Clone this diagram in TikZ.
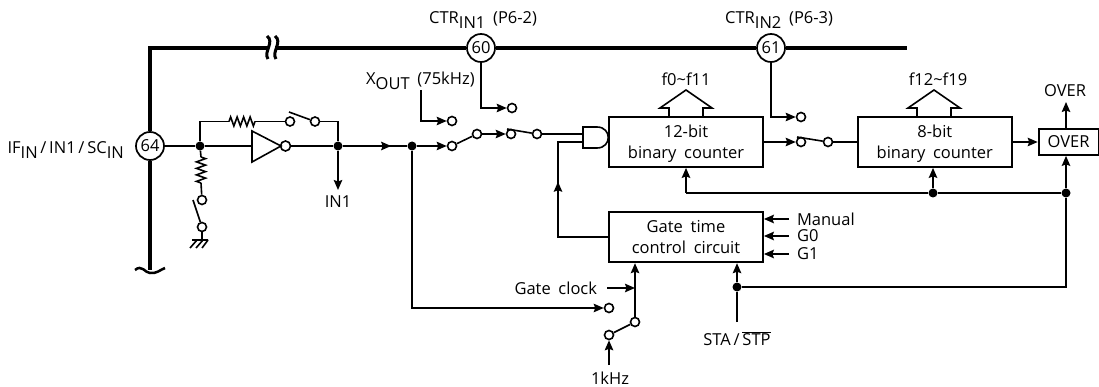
\documentclass[tikz,border=0pt]{standalone}
\usepackage{fontspec}
\setmainfont[WordSpace=1.8]{Open Sans}
\usetikzlibrary{arrows.meta, positioning, decorations.pathmorphing, decorations.markings}
\newcommand{\lowtxt}[1]{\raisebox{-5pt}{#1}}
\newcommand{\dropline}{\rule{0pt}{16pt}}

\begin{document}
\begin{tikzpicture}[
  x=1pt, y=-1pt,
  txt/.style={inner sep=0pt, font=\fontsize{16.5}{21}\selectfont},
  box/.style={rectangle, draw=black, line width=1.8pt, minimum width=154pt,
             minimum height=50pt, align=center, txt},
  overbox/.style={box, minimum width=60pt, minimum height=26pt},
  pinnode/.style={circle, draw=black, fill=white, line width=1.7pt, minimum size=28pt, txt},
  contact/.style={circle, draw=black, fill=white, line width=1.6pt, minimum size=9pt, inner sep=0pt},
  junction/.style={circle, fill=black, minimum size=9pt, inner sep=0pt},
  wire/.style={line width=1.6pt},
  bus/.style={line width=4pt},
  arrow/.style={wire, -{Stealth[length=10pt, width=8.5pt, inset=1.5pt]}},
  midarrow/.style={wire, decoration={markings,
    mark=at position #1 with {\arrow{Stealth[length=10pt, width=8.5pt, inset=1.5pt]}}}, postaction={decorate}},
  zig/.style={wire, decorate, decoration={zigzag, amplitude=4.5pt, segment length=6.5pt}}
]
\useasboundingbox (0,0) rectangle (1099,387);

% counters and control boxes
\node[box] (cnta) at (686,142) {\dropline 12-bit\\binary counter};
\node[box, right=93pt of cnta] (cntb) {\dropline 8-bit\\binary counter};
\node[overbox, right=25pt of cntb] (over) {OVER};
\node[box, below=43pt of cnta, yshift=-0.5pt] (gate) {Gate time\\control circuit};

% pins on the bus
\node[pinnode] (p64) at (150,146) {64};
\node[pinnode] (p60) at (481,48) {60};
\node[pinnode] (p61) at (771,48) {61};
\node[txt, anchor=base east] (p64txt) at (124,154) {IF\lowtxt{IN}\,/\,IN1\,/\,SC\lowtxt{IN}};
\node[txt, anchor=base west] (p60txt) at (429,24) {CTR\lowtxt{IN1} (P6-2)};
\node[txt, anchor=base west] (p61txt) at (725,24) {CTR\lowtxt{IN2} (P6-3)};
\coordinate (buscorner) at (150,48);
\coordinate (busend) at (907,48);
\coordinate (busbot) at (150,270);
\draw[bus] (p64) -- (buscorner) -- (p60);
\draw[bus] (p60) -- (p61);
\draw[bus] (p61) -- (busend);
\draw[bus] (p64) -- (busbot);

% breaks in the bus
\fill[white] (268,44) rectangle (275,52);
\draw[line width=3pt] (267,36) .. controls (275,42) and (263,52) .. (268,59);
\draw[line width=3pt] (275,36) .. controls (283,42) and (271,52) .. (276,59);
\draw[line width=2.5pt] (135,270) .. controls (142,264) and (145,273) .. (150,273)
  .. controls (156,274) and (160,270) .. (165,268);

% input stage
\node[junction] (j1) at (200,146) {};
\node[junction] (j2) at (338,146) {};
\node[junction] (j3) at (412,146) {};
\node[contact] (fb1) at (290,121.5) {};
\node[contact] (fb2) at (315,121.5) {};
\node[contact] (pd1) at (202,200) {};
\node[contact] (pd2) at (202,227) {};
\coordinate (fbl) at (200,121.5);
\coordinate (fbr) at (338,121.5);
\coordinate (r1a) at (229,121.5);
\coordinate (r1b) at (255,121.5);
\coordinate (r2a) at (201,157);
\coordinate (r2b) at (201,183);
\coordinate (fbblade) at (289,112);
\coordinate (pdblade) at (193,200);
\coordinate (gnd) at (202,240);
\coordinate (invin) at (252,146);
\coordinate (invtip) at (281,146);
\node[contact, minimum size=10pt] (invout) at (285.5,146) {};
\draw[wire] (p64) -- (j1) -- (invin);
\draw[wire] (invout) -- (j2);
\draw[wire] (252,131) -- (invtip) -- (252,162) -- cycle;
\draw[wire] (j1) -- (fbl) -- (r1a);
\draw[zig] (r1a) -- (r1b);
\draw[wire] (r1b) -- (fb1);
\draw[wire] (fb2) -- (fbr) -- (j2);
\draw[wire] (fbblade) -- (fb2);
\draw[wire] (j1) -- (r2a);
\draw[zig] (r2a) -- (r2b);
\draw[wire] (r2b) -- (pd1);
\draw[wire] (pdblade) -- (pd2);
\draw[wire] (pd2) -- (gnd);
\draw[wire] (192,240) -- (208,240) (197,240) -- (190,248) (203,240) -- (196,248) (208,240) -- (202,248);
\node[txt] (in1) at (338,202) {IN1};
\draw[arrow] (j2) -- (338,190);

% input selector
\node[contact] (s1a) at (452,146) {};
\node[contact] (s1b) at (477,134) {};
\node[contact] (s1c) at (452,121) {};
\node[contact] (s2a) at (511,134) {};
\node[contact] (s2b) at (537,134) {};
\node[contact] (s2c) at (512,108) {};
\coordinate (s2blade) at (507,129);
\draw[midarrow=0.75] (j2) -- (j3);
\draw[arrow] (j3) -- (s1a);
\draw[wire] (s1a) -- (s1b);
\draw[arrow] (s1b) -- (s2a);
\draw[wire] (s2blade) -- (s2b);
\node[txt, anchor=base west] (xout) at (366,85) {X\lowtxt{OUT} (75kHz)};
\coordinate (xoutb) at (421,90);
\draw[arrow] (xoutb) |- (s1c);
\draw[arrow] (p60) |- (s2c);

% AND gate
\coordinate (andin1) at (583,134);
\coordinate (andin2) at (583,142);
\coordinate (andb) at (558,142);
\draw[wire] (s2b) -- (andin1);
\draw[wire] (583,127) -- (597,127) .. controls (612,127) and (612,148) .. (597,148) -- (583,148) -- cycle;
\draw[midarrow=0.62] (gate.west) -| (andb) -- (andin2);

% between the counters
\node[contact] (s3a) at (801,142) {};
\node[contact] (s3b) at (828,142) {};
\node[contact] (s3c) at (801,117) {};
\coordinate (s3blade) at (797,137);
\draw[arrow] (cnta.east) -- (s3a);
\draw[wire] (s3blade) -- (s3b);
\draw[wire] (s3b) -- (cntb.west);
\draw[arrow] (p61) |- (s3c);
\draw[arrow] (cntb.east) -- (over.west);

% outputs
\draw[wire] (669,117) -- (669,108) -- (660,108) -- (686,90) -- (712,108) -- (703,108) -- (703,117);
\draw[wire] (917,117) -- (917,108) -- (908,108) -- (934,90) -- (960,108) -- (951,108) -- (951,117);
\node[txt] (fa) at (686,79) {f0\textasciitilde f11};
\node[txt] (fb) at (938,79) {f12\textasciitilde f19};
\node[txt] (overtxt) at (1065,91) {OVER};
\coordinate (overup) at (1066,102);
\draw[arrow] (over.north -| overup) -- (overup);

% start / stop
\node[junction] (j4) at (1066,193) {};
\node[junction] (j5) at (933,193) {};
\node[junction] (j6) at (737,287) {};
\coordinate (ra) at (686,193);
\coordinate (rb) at (1066,287);
\coordinate (sta) at (737,322);
\node[txt] (statxt) at (737,339) {STA\,/\,$\overline{\hbox{STP}}$};
\draw[wire] (j4) -- (j5) -- (ra);
\draw[arrow] (ra) -- (ra |- cnta.south);
\draw[arrow] (j5) -- (j5 |- cntb.south);
\draw[arrow] (j4) -- (j4 |- over.south);
\draw[wire] (j4) -- (rb) -- (j6);
\draw[wire] (sta) -- (j6);
\draw[arrow] (j6) -- (j6 |- gate.south);

% gate time inputs
\node[txt, anchor=west, outer sep=8pt] (manual) at (789,219) {Manual};
\node[txt, anchor=west, outer sep=8pt] (g0) at (789,236) {G0};
\node[txt, anchor=west, outer sep=8pt] (g1) at (789,254) {G1};
\draw[arrow] (manual) -- (manual -| gate.east);
\draw[arrow] (g0) -- (g0 -| gate.east);
\draw[arrow] (g1) -- (g1 -| gate.east);

% gate clock selector
\node[contact] (s4a) at (609,335) {};
\node[contact] (s4b) at (635,322) {};
\node[contact] (s4c) at (609,308) {};
\node[txt, anchor=east, outer sep=10pt] (gclk) at (607,288) {Gate clock};
\node[txt] (khz) at (610,378) {1kHz};
\coordinate (khzb) at (609,365);
\draw[wire] (s4a) -- (s4b);
\draw[arrow] (s4b) -- (s4b |- gate.south);
\draw[arrow] (gclk) -- (gclk -| s4b);
\draw[arrow] (khzb) -- (s4a);
\draw[arrow] (j3) |- (s4c);
\end{tikzpicture}
\end{document}
